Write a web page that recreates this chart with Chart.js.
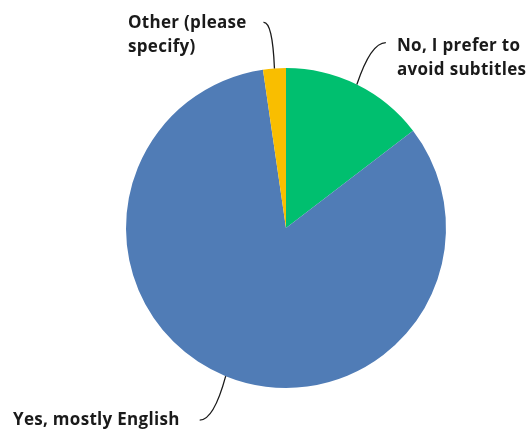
<!DOCTYPE html>
<html>
<head>
<meta charset="utf-8">
<script src="https://cdn.jsdelivr.net/npm/chart.js@4/dist/chart.umd.min.js"></script>
<style>
  html, body { margin: 0; padding: 0; background: #fff; }
  #wrap { width: 532px; height: 432px; position: relative; }
</style>
</head>
<body>
<div id="wrap"><canvas id="c" width="532" height="432"></canvas></div>
<script>
// Survey answers, percent of respondents
const categories = [
  ["No, I prefer to", "avoid subtitles"],
  ["Yes, mostly English"],
  ["Other (please", "specify)"]
];
const shares = [14.6, 83.1, 2.3];
const colors = ["#00BF6F", "#507CB6", "#F9BE00"];

// Where each callout's text sits relative to its slice, and how its leader bends
const callouts = [
  { text: { x: 397, y: 46 }, to: [29, -42], ctrl: [14, -42] },
  { text: { x: 13, y: 420 }, to: [-26, 44], ctrl: [-12, 44] },
  { text: { x: 128, y: 23 }, to: [-11, -46], ctrl: [-2, -47] }
];

const calloutPlugin = {
  id: 'callouts',
  afterDatasetsDraw(chart) {
    const ctx = chart.ctx;
    const meta = chart.getDatasetMeta(0);
    ctx.save();
    meta.data.forEach((arc, i) => {
      const mid = (arc.startAngle + arc.endAngle) / 2;
      const r = arc.outerRadius;
      const ex = arc.x + Math.cos(mid) * r;
      const ey = arc.y + Math.sin(mid) * r;
      const c = callouts[i];
      ctx.beginPath();
      ctx.strokeStyle = '#1a1a1a';
      ctx.lineWidth = 1.3;
      ctx.moveTo(ex, ey);
      ctx.quadraticCurveTo(ex + c.ctrl[0], ey + c.ctrl[1], ex + c.to[0], ey + c.to[1]);
      ctx.stroke();

      ctx.fillStyle = '#1a1a1a';
      ctx.font = '700 17px "Open Sans", "Noto Sans", sans-serif';
      if ('letterSpacing' in ctx) ctx.letterSpacing = '0.3px';
      ctx.textAlign = 'left';
      ctx.textBaseline = 'middle';
      categories[i].forEach((line, k) => {
        ctx.fillText(line, c.text.x, c.text.y + k * 24);
      });
      if ('letterSpacing' in ctx) ctx.letterSpacing = '0px';
    });
    ctx.restore();
  }
};

new Chart(document.getElementById('c'), {
  type: 'pie',
  data: {
    labels: categories.map(l => l.join(' ')),
    datasets: [{
      data: shares,
      backgroundColor: colors,
      borderWidth: 0
    }]
  },
  options: {
    responsive: false,
    animation: false,
    layout: { padding: { left: 126, right: 86, top: 68, bottom: 44 } },
    plugins: {
      legend: { display: false },
      tooltip: { enabled: false }
    }
  },
  plugins: [calloutPlugin]
});
</script>
</body>
</html>
